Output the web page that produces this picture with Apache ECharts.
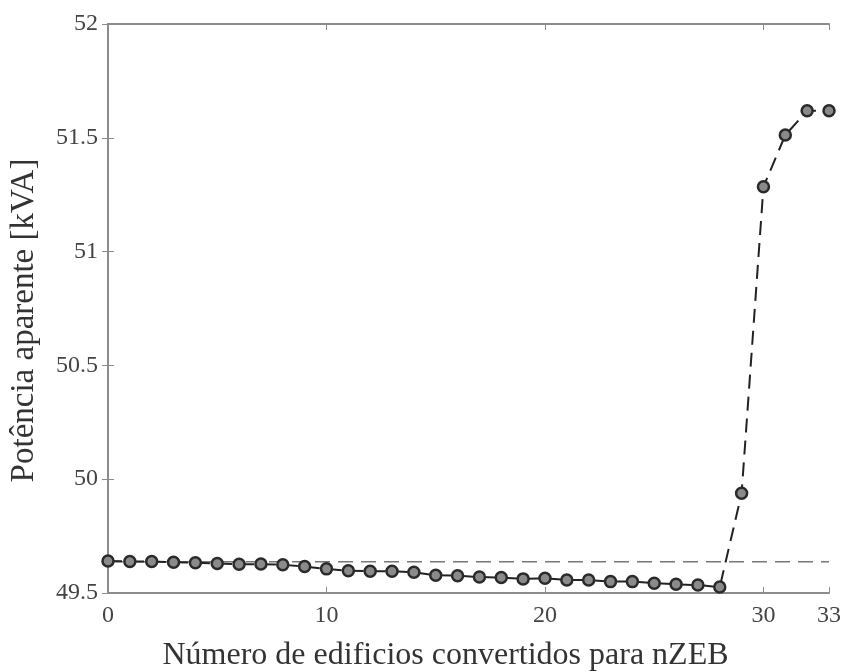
<!DOCTYPE html>
<html>
<head>
<meta charset="utf-8">
<script src="https://cdn.jsdelivr.net/npm/echarts@6/dist/echarts.min.js"></script>
<style>html,body{margin:0;padding:0;background:#fff}#c{width:846px;height:671px}</style>
</head>
<body>
<div id="c"></div>
<script>
const buildings = [0,1,2,3,4,5,6,7,8,9,10,11,12,13,14,15,16,17,18,19,20,21,22,23,24,25,26,27,28,29,30,31,32,33];
const power = [49.641,49.638,49.638,49.635,49.633,49.630,49.626,49.627,49.624,49.616,
  49.606,49.598,49.596,49.596,49.591,49.578,49.576,49.570,49.568,49.562,
  49.565,49.557,49.557,49.550,49.550,49.543,49.538,49.535,49.526,
  49.938,51.285,51.512,51.619,51.619];
const baseline = 49.637;
const baselineX = [0,33];
const yTicks = [49.5,50,50.5,51,51.5,52];

const font = '"Liberation Serif","DejaVu Serif",serif';
const axisCol = '#8c8c8c';
const chart = echarts.init(document.getElementById('c'));
const mainData = buildings.map((b,i)=>[b,power[i]]);
const baseData = baselineX.map(x=>[x,baseline]);
chart.setOption({
  animation:false,
  grid:{left:108,right:17,top:24,bottom:78,outerBoundsMode:'none',containLabel:false},
  xAxis:[{
    type:'value',min:0,max:33,interval:10,
    name:'Número de edificios convertidos para nZEB',nameLocation:'middle',nameGap:47,
    nameTextStyle:{fontFamily:font,fontSize:32,color:'#333',padding:[0,46,0,0]},
    axisLine:{show:true,lineStyle:{color:axisCol,width:2}},
    axisTick:{show:true,inside:true,length:6,lineStyle:{color:axisCol}},
    axisLabel:{fontFamily:font,fontSize:24,color:'#444',margin:11},
    splitLine:{show:false}
  },{
    type:'value',min:0,max:33,interval:10,position:'top',
    axisLine:{show:true,lineStyle:{color:axisCol,width:2}},
    axisTick:{show:true,inside:true,length:6,lineStyle:{color:axisCol}},
    axisLabel:{show:false},splitLine:{show:false}
  }],
  yAxis:[{
    type:'value',min:yTicks[0],max:yTicks[yTicks.length-1],interval:0.5,
    name:'Potência aparente [kVA]',nameLocation:'middle',nameGap:67,
    nameTextStyle:{fontFamily:font,fontSize:33,color:'#333',padding:[0,24,0,0]},
    axisLine:{show:true,lineStyle:{color:axisCol,width:2}},
    axisTick:{show:true,inside:true,length:6,lineStyle:{color:axisCol}},
    axisLabel:{fontFamily:font,fontSize:24,color:'#444',margin:10,formatter:v=>String(v)},
    splitLine:{show:false}
  },{
    type:'value',min:yTicks[0],max:yTicks[yTicks.length-1],interval:0.5,position:'right',
    axisLine:{show:true,lineStyle:{color:axisCol,width:2}},
    axisTick:{show:true,inside:true,length:6,lineStyle:{color:axisCol}},
    axisLabel:{show:false},splitLine:{show:false}
  }],
  series:[{
    type:'line',data:baseData,symbol:'none',silent:true,
    lineStyle:{color:'#777',width:1.5,type:[15,8]},z:1
  },{
    type:'line',data:mainData,symbol:'circle',symbolSize:11,
    lineStyle:{color:'#222',width:2,type:[14,8]},
    itemStyle:{color:'#8a8a8a',borderColor:'#2a2a2a',borderWidth:2.5},z:3
  }]
});
</script>
</body>
</html>
